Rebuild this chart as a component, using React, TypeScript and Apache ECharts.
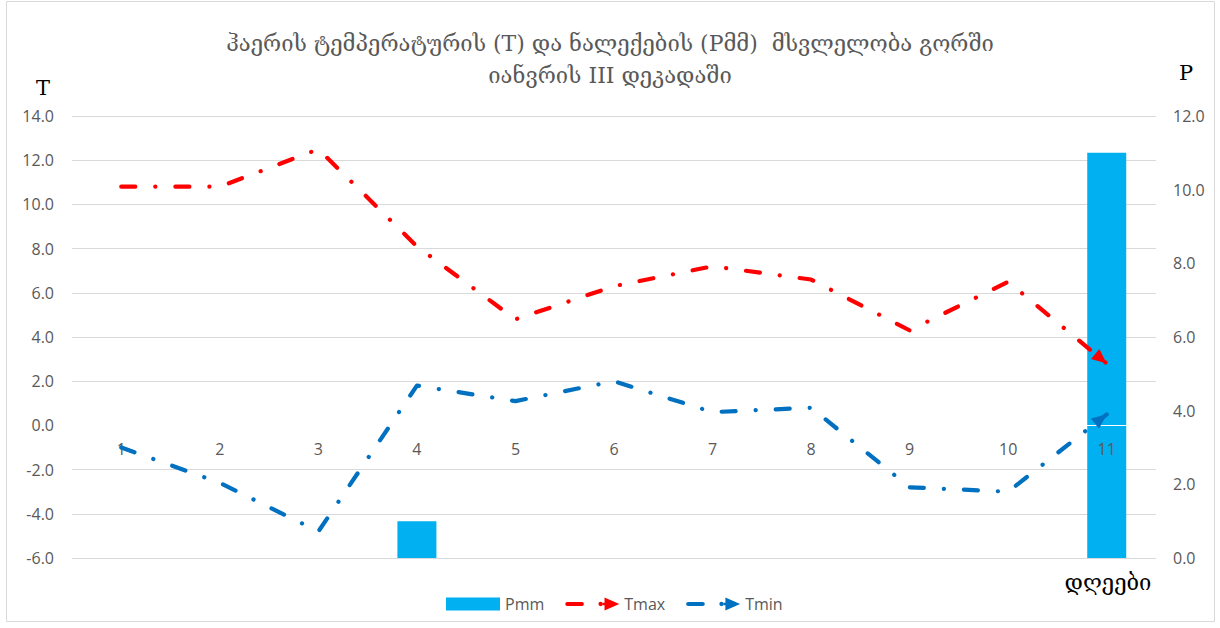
import React, { useEffect, useRef } from "react";
import * as echarts from "echarts";

// Days of the third decade of January
const days = ["1", "2", "3", "4", "5", "6", "7", "8", "9", "10", "11"];
// Precipitation, mm (right axis)
const pmm = [0, 0, 0, 1.0, 0, 0, 0, 0, 0, 0, 11.0];
// Maximum and minimum air temperature, °C (left axis)
const tmax = [10.8, 10.8, 12.5, 8.1, 4.8, 6.3, 7.2, 6.6, 4.3, 6.5, 2.8];
const tmin = [-1.0, -2.6, -4.8, 1.8, 1.1, 2.0, 0.6, 0.8, -2.8, -3.0, 0.5];

const tRange = { min: -6, max: 14, interval: 2 };
const pRange = { min: 0, max: 12, interval: 2 };

const titleText =
  "ჰაერის ტემპერატურის (T) და ნალექების (Pმმ)  მსვლელობა გორში\nიანვრის III დეკადაში";

const COLOR_P = "#00B0F0";
const COLOR_TMAX = "#FF0000";
const COLOR_TMIN = "#0070C0";
const GREY_TEXT = "#595959";
const LABEL_FONT = "'Open Sans', 'Liberation Sans', sans-serif";
const SERIF_FONT = "'DejaVu Serif', 'Liberation Serif', serif";

// Plot area
const GRID = { left: 72, right: 64, top: 116, bottom: 70 };
const CHART_H = 628;
const plotHeight = CHART_H - GRID.top - GRID.bottom;
// distance of the temperature zero line above the bottom of the plot area
const zeroLift = (plotHeight * (0 - tRange.min)) / (tRange.max - tRange.min);

// dash - dot - dash pattern with round caps
const dashDot = [14, 20, 0.1, 20];

// Legend glyph: short dash, dot and arrow head
const arrowLegendIcon =
  "path://M2,5 L17,5 A2,2 0 0 1 17,9 L2,9 A2,2 0 0 1 2,5 Z " +
  "M33.8,7 A2.2,2.2 0 1 1 38.2,7 A2.2,2.2 0 1 1 33.8,7 Z " +
  "M38.2,5.8 L41,5.8 L41,8.2 L38.2,8.2 Z " +
  "M40,0.5 L55,7 L40,13.5 Z";

// Arrow head at the end of a line, oriented along its last segment
function arrowHead(color: string) {
  return (_params: any, api: any) => {
    const tip = api.coord([api.value(0), api.value(1)]);
    const from = api.coord([api.value(2), api.value(3)]);
    const dx = tip[0] - from[0];
    const dy = tip[1] - from[1];
    const len = Math.hypot(dx, dy) || 1;
    const ux = dx / len;
    const uy = dy / len;
    const L = 15;
    const W = 6.5;
    const bx = tip[0] - ux * L;
    const by = tip[1] - uy * L;
    return {
      type: "polygon",
      shape: {
        points: [
          [tip[0], tip[1]],
          [bx - uy * W, by + ux * W],
          [bx + uy * W, by - ux * W],
        ],
      },
      style: { fill: color },
    };
  };
}

function lastSegment(values: number[]) {
  const n = values.length;
  return [[n - 1, values[n - 1], n - 2, values[n - 2]]];
}

export default function App() {
  const ref = useRef<HTMLDivElement>(null);

  useEffect(() => {
    if (!ref.current) return;
    const chart = echarts.init(ref.current, undefined, { renderer: "svg" });

    const lineSeries = (name: string, data: number[], color: string) => ({
      name,
      type: "line",
      yAxisIndex: 0,
      data,
      symbol: "none",
      z: 4,
      lineStyle: { color, width: 4.2, type: dashDot, cap: "round", join: "round" },
      itemStyle: { color },
    });

    const arrowSeries = (data: number[], color: string) => ({
      type: "custom",
      yAxisIndex: 0,
      data: lastSegment(data),
      encode: { x: 0, y: 1 },
      renderItem: arrowHead(color),
      silent: true,
      z: 5,
    });

    chart.setOption({
      animation: false,
      backgroundColor: "#ffffff",
      title: {
        text: titleText,
        left: "center",
        top: 27,
        padding: 0,
        textStyle: {
          fontFamily: SERIF_FONT,
          fontSize: 22,
          fontWeight: "normal",
          color: GREY_TEXT,
          lineHeight: 32,
        },
      },
      grid: { ...GRID, containLabel: false },
      legend: {
        left: 441,
        top: 591,
        itemWidth: 54,
        itemHeight: 13,
        itemGap: 21,
        textStyle: { color: GREY_TEXT, fontSize: 16, fontFamily: LABEL_FONT },
        data: [
          { name: "Pmm", icon: "rect" },
          { name: "Tmax", icon: arrowLegendIcon },
          { name: "Tmin", icon: arrowLegendIcon },
        ],
        selectedMode: false,
      },
      xAxis: {
        type: "category",
        data: days,
        boundaryGap: true,
        position: "bottom",
        offset: -zeroLift,
        z: 3,
        axisLine: {
          show: true,
          onZero: false,
          lineStyle: { color: "#ffffff", width: 1 },
        },
        axisTick: { show: false },
        axisLabel: {
          margin: 16,
          color: GREY_TEXT,
          fontSize: 16,
          fontFamily: LABEL_FONT,
        },
        splitLine: { show: false },
      },
      yAxis: [
        {
          type: "value",
          min: tRange.min,
          max: tRange.max,
          interval: tRange.interval,
          axisLine: { show: false },
          axisTick: { show: false },
          axisLabel: {
            margin: 18,
            color: GREY_TEXT,
            fontSize: 16,
            fontFamily: LABEL_FONT,
            formatter: (v: number) => v.toFixed(1),
          },
          splitLine: { show: true, lineStyle: { color: "#d9d9d9", width: 1 } },
        },
        {
          type: "value",
          min: pRange.min,
          max: pRange.max,
          interval: pRange.interval,
          axisLine: { show: false },
          axisTick: { show: false },
          axisLabel: {
            margin: 17,
            color: GREY_TEXT,
            fontSize: 16,
            fontFamily: LABEL_FONT,
            formatter: (v: number) => v.toFixed(1),
          },
          splitLine: { show: false },
        },
      ],
      series: [
        {
          name: "Pmm",
          type: "bar",
          yAxisIndex: 1,
          data: pmm,
          barWidth: 39,
          itemStyle: { color: COLOR_P },
          z: 2,
        },
        lineSeries("Tmax", tmax, COLOR_TMAX),
        lineSeries("Tmin", tmin, COLOR_TMIN),
        arrowSeries(tmax, COLOR_TMAX),
        arrowSeries(tmin, COLOR_TMIN),
      ],
      graphic: [
        {
          type: "rect",
          silent: true,
          z: -1,
          shape: { x: 6.5, y: 1.5, width: 1208, height: 620 },
          style: { fill: "none", stroke: "#d9d9d9", lineWidth: 1 },
        },
        {
          type: "text",
          x: 43,
          y: 88,
          style: {
            text: "T",
            fontFamily: SERIF_FONT,
            fontSize: 21,
            fill: "#000000",
            align: "center",
            verticalAlign: "middle",
          },
        },
        {
          type: "text",
          x: 1186,
          y: 73,
          style: {
            text: "P",
            fontFamily: SERIF_FONT,
            fontSize: 21,
            fill: "#000000",
            align: "center",
            verticalAlign: "middle",
          },
        },
        {
          type: "text",
          x: 1108,
          y: 582,
          style: {
            text: "დღეები",
            fontFamily: SERIF_FONT,
            fontSize: 22,
            fill: "#000000",
            align: "center",
            verticalAlign: "middle",
          },
        },
      ],
    });

    return () => chart.dispose();
  }, []);

  return (
    <div
      ref={ref}
      style={{ position: "absolute", left: 0, top: 0, width: 1220, height: 628 }}
    />
  );
}
